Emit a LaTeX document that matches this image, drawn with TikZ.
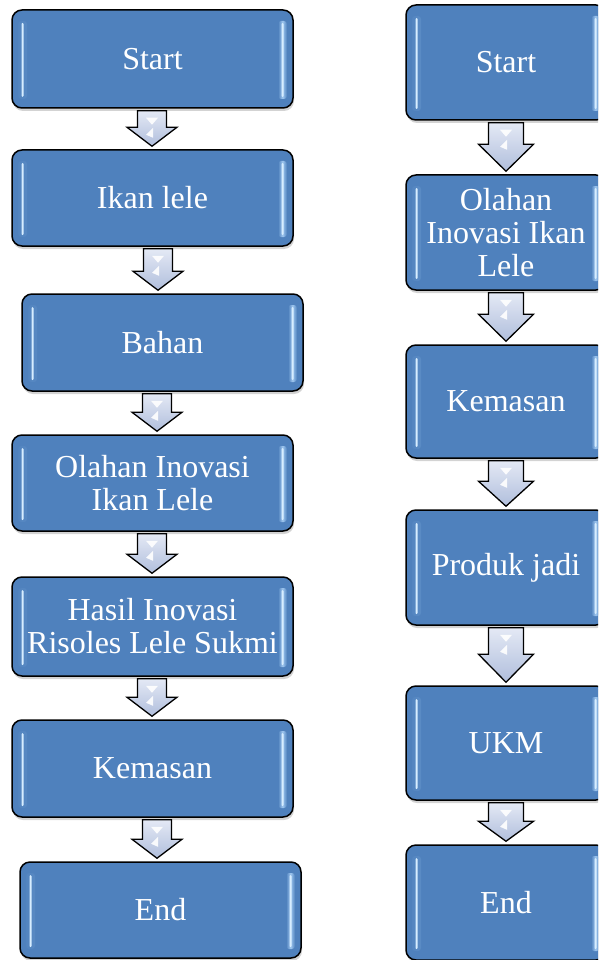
\documentclass[tikz,border=0pt]{standalone}
\usepackage{fontspec}
\setmainfont{Liberation Serif}
\usetikzlibrary{shadows,calc}
\definecolor{boxblue}{RGB}{79,129,189}
\definecolor{stripmid}{RGB}{160,200,240}
\definecolor{striplight}{RGB}{215,237,255}
\definecolor{arrtop}{RGB}{228,233,245}
\definecolor{arrbot}{RGB}{176,190,220}
\tikzset{
  flowbox/.style={draw=black, line width=1.5pt, rounded corners=10pt, fill=boxblue,
    text=white, font=\fontsize{32}{33}\selectfont, align=center, inner sep=0pt,
    drop shadow={opacity=0.35, shadow xshift=1pt, shadow yshift=-3pt},
    path picture={
      \shade[left color=boxblue, right color=boxblue, middle color=stripmid, rounded corners=3pt]
        ([xshift=6pt,yshift=-11pt]path picture bounding box.north west) rectangle
        ([xshift=15pt,yshift=9pt]path picture bounding box.south west);
      \fill[striplight, rounded corners=1pt]
        ([xshift=9.5pt,yshift=-13pt]path picture bounding box.north west) rectangle
        ([xshift=11.5pt,yshift=11pt]path picture bounding box.south west);
      \shade[left color=boxblue, right color=boxblue, middle color=stripmid, rounded corners=3pt]
        ([xshift=-15pt,yshift=-11pt]path picture bounding box.north east) rectangle
        ([xshift=-6pt,yshift=9pt]path picture bounding box.south east);
      \fill[striplight, rounded corners=1pt]
        ([xshift=-11.5pt,yshift=-13pt]path picture bounding box.north east) rectangle
        ([xshift=-9.5pt,yshift=11pt]path picture bounding box.south east);
    }},
  blockarr/.style={draw=black, line width=1.3pt, top color=arrtop, bottom color=arrbot, line join=miter},
  arrshine/.style={fill=white, opacity=0.9}
}
% #1 top node, #2 bottom node, #3 centre x, #4 body half width, #5 head half width, #6 head height
\newcommand\blockarrow[6]{%
  \draw[blockarr] let \p1=(#1.south), \p2=(#2.north) in
    (#3pt-#4pt,\y1-2pt) -- (#3pt+#4pt,\y1-2pt) -- (#3pt+#4pt,\y2+3pt+#6pt)
    -- (#3pt+#5pt,\y2+3pt+#6pt) -- (#3pt,\y2+3pt) -- (#3pt-#5pt,\y2+3pt+#6pt)
    -- (#3pt-#4pt,\y2+3pt+#6pt) -- cycle;
  \fill[arrshine] let \p1=(#1.south) in
    (#3pt-6pt,\y1-9pt) -- (#3pt+6pt,\y1-9pt) -- (#3pt,\y1-16pt) -- cycle
    (#3pt+1pt,\y1-19pt) -- (#3pt+1pt,\y1-29pt) -- (#3pt-6pt,\y1-26pt) -- cycle;
}
\begin{document}
\begin{tikzpicture}[x=1pt,y=-1pt]
\useasboundingbox (0,0) rectangle (598,960);
\clip (0,0) rectangle (598,960);
% left column
\node[flowbox, minimum width=281pt, minimum height=98pt] (L1) at (152.5,59) {Start};
\node[flowbox, minimum width=281pt, minimum height=96pt] (L2) at (152.5,198) {Ikan lele};
\node[flowbox, minimum width=281pt, minimum height=97pt] (L3) at (162.5,342.5) {Bahan};
\node[flowbox, minimum width=281pt, minimum height=96pt] (L4) at (152.5,483) {Olahan Inovasi\\Ikan Lele};
\node[flowbox, minimum width=281pt, minimum height=99pt] (L5) at (152.5,626.5) {Hasil Inovasi\\Risoles Lele Sukmi};
\node[flowbox, minimum width=281pt, minimum height=97pt] (L6) at (152.5,768.5) {Kemasan};
\node[flowbox, minimum width=281pt, minimum height=96pt] (L7) at (160.5,910) {End};
% right column
\node[flowbox, minimum width=200pt, minimum height=115pt] (R1) at (506,62.5) {Start};
\node[flowbox, minimum width=200pt, minimum height=115pt] (R2) at (506,232.5) {Olahan\\Inovasi Ikan\\Lele};
\node[flowbox, minimum width=200pt, minimum height=113pt] (R3) at (506,401.5) {Kemasan};
\node[flowbox, minimum width=200pt, minimum height=115pt] (R4) at (506,567.5) {Produk jadi};
\node[flowbox, minimum width=200pt, minimum height=114pt] (R5) at (506,743) {UKM};
\node[flowbox, minimum width=200pt, minimum height=115pt] (R6) at (506,902.5) {End};
% left arrows
\blockarrow{L1}{L2}{152}{14.5}{25}{19}
\blockarrow{L2}{L3}{158}{14.5}{25}{19}
\blockarrow{L3}{L4}{157}{14.5}{25}{19}
\blockarrow{L4}{L5}{152}{14.5}{25}{19}
\blockarrow{L5}{L6}{152}{14.5}{25}{19}
\blockarrow{L6}{L7}{157}{14.5}{25}{19}
% right arrows
\blockarrow{R1}{R2}{506}{17.5}{27.5}{27}
\blockarrow{R2}{R3}{506}{17.5}{27.5}{27}
\blockarrow{R3}{R4}{506}{17.5}{27.5}{25}
\blockarrow{R4}{R5}{506}{17.5}{27.5}{28}
\blockarrow{R5}{R6}{506}{17.5}{27.5}{20}
\end{tikzpicture}
\end{document}
